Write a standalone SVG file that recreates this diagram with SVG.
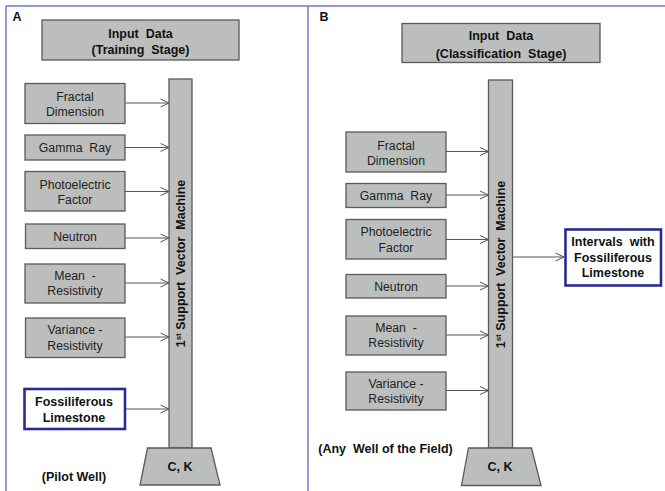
<svg xmlns="http://www.w3.org/2000/svg" width="665" height="491" viewBox="0 0 665 491">
<defs>
<style>
text{white-space:pre}
.box{fill:#bcbebe;stroke:#5a5a5a;stroke-width:1.3}
.hl{fill:#ffffff;stroke:#2b2b8f;stroke-width:2.6}
.t{font-family:"Liberation Sans",Arial,sans-serif;font-size:12.3px;fill:#222;text-anchor:middle}
.b{font-family:"Liberation Sans",Arial,sans-serif;font-size:12.5px;font-weight:bold;fill:#111;text-anchor:middle}
.frame{stroke:#7474c4;stroke-width:1.5;fill:none}
.con{stroke:#555;stroke-width:1;fill:none;marker-end:url(#ah)}
</style>
<marker id="ah" viewBox="0 0 10 10" refX="9.5" refY="5" markerWidth="10" markerHeight="10" markerUnits="userSpaceOnUse" orient="auto">
<polyline points="1,1 9.5,5 1,9" fill="none" stroke="#555" stroke-width="1"/>
</marker>
</defs>
<rect width="665" height="491" fill="#ffffff"/>
<g id="frame">
<line class="frame" x1="6" y1="6" x2="665" y2="6"/>
<line class="frame" x1="6" y1="6" x2="6" y2="491"/>
<line class="frame" x1="308" y1="6" x2="308" y2="491"/>
</g>
<text class="b" x="17" y="20.5" font-size="13">A</text>
<text class="b" x="324" y="20.5" font-size="13">B</text>

<g id="connectors">
<line class="con" x1="125" y1="103" x2="169" y2="103"/>
<line class="con" x1="125" y1="147.5" x2="169" y2="147.5"/>
<line class="con" x1="125" y1="191.5" x2="169" y2="191.5"/>
<line class="con" x1="125" y1="238" x2="169" y2="238"/>
<line class="con" x1="125" y1="283" x2="169" y2="283"/>
<line class="con" x1="125" y1="337" x2="169" y2="337"/>
<line class="con" x1="125" y1="409" x2="169" y2="409"/>
<line class="con" x1="446" y1="151.5" x2="488.5" y2="151.5"/>
<line class="con" x1="446" y1="195" x2="488.5" y2="195"/>
<line class="con" x1="446" y1="239.5" x2="488.5" y2="239.5"/>
<line class="con" x1="446" y1="286" x2="488.5" y2="286"/>
<line class="con" x1="446" y1="335" x2="488.5" y2="335"/>
<line class="con" x1="446" y1="390.5" x2="488.5" y2="390.5"/>
<line class="con" x1="512.5" y1="257" x2="564" y2="257"/>
</g>

<!-- Panel A -->
<g id="inputA">
<rect class="box" x="42" y="20" width="197" height="40"/>
<text class="b" x="140.5" y="37.8">Input  Data</text>
<text class="b" x="140.5" y="53.8">(Training  Stage)</text>
</g>
<g id="svmA">
<rect class="box" x="169" y="79" width="23" height="369"/>
<text class="b" transform="translate(185,263.5) rotate(-90)">1<tspan font-size="8" dy="-4">st</tspan><tspan dy="4"> Support  Vector  Machine</tspan></text>
</g>
<g id="fractalA">
<rect class="box" x="25" y="83.5" width="100" height="40"/>
<text class="t" x="75" y="101">Fractal</text>
<text class="t" x="75" y="115.5">Dimension</text>
</g>
<g id="gammaA">
<rect class="box" x="25" y="135" width="100" height="25"/>
<text class="t" x="75" y="151.8">Gamma  Ray</text>
</g>
<g id="photoA">
<rect class="box" x="25" y="171.5" width="100" height="39.5"/>
<text class="t" x="75" y="188.5">Photoelectric</text>
<text class="t" x="75" y="203.5">Factor</text>
</g>
<g id="neutronA">
<rect class="box" x="25.5" y="224" width="99.5" height="24.5"/>
<text class="t" x="75" y="240.5">Neutron</text>
</g>
<g id="meanA">
<rect class="box" x="25" y="264" width="100" height="39"/>
<text class="t" x="75" y="280">Mean  -</text>
<text class="t" x="75" y="295">Resistivity</text>
</g>
<g id="varA">
<rect class="box" x="25.5" y="318" width="99.5" height="39.5"/>
<text class="t" x="75" y="334">Variance -</text>
<text class="t" x="75" y="349.5">Resistivity</text>
</g>
<g id="fossilA">
<rect class="hl" x="24.5" y="389" width="100.5" height="40"/>
<text class="b" x="74" y="406">Fossiliferous</text>
<text class="b" x="74" y="421.5">Limestone</text>
</g>
<g id="ckA">
<polygon class="box" points="147.5,448 211,448 220,485 140,485"/>
<text class="b" x="180" y="470.5">C, K</text>
</g>
<text class="b" x="74" y="480.5">(Pilot Well)</text>

<!-- Panel B -->
<g id="inputB">
<rect class="box" x="402" y="23.5" width="198" height="39"/>
<text class="b" x="501" y="39.5">Input  Data</text>
<text class="b" x="501" y="57.5">(Classification  Stage)</text>
</g>
<g id="svmB">
<rect class="box" x="488.5" y="80" width="24" height="368"/>
<text class="b" transform="translate(505,264.5) rotate(-90)">1<tspan font-size="8" dy="-4">st</tspan><tspan dy="4"> Support  Vector  Machine</tspan></text>
</g>
<g id="fractalB">
<rect class="box" x="346" y="132" width="100" height="40"/>
<text class="t" x="396" y="149.5">Fractal</text>
<text class="t" x="396" y="164.5">Dimension</text>
</g>
<g id="gammaB">
<rect class="box" x="346" y="183.5" width="100" height="24"/>
<text class="t" x="396" y="199.5">Gamma  Ray</text>
</g>
<g id="photoB">
<rect class="box" x="346" y="219.5" width="100" height="39.5"/>
<text class="t" x="396" y="236">Photoelectric</text>
<text class="t" x="396" y="251.5">Factor</text>
</g>
<g id="neutronB">
<rect class="box" x="346" y="274.5" width="100" height="23.5"/>
<text class="t" x="396" y="290.5">Neutron</text>
</g>
<g id="meanB">
<rect class="box" x="346" y="316" width="100" height="39"/>
<text class="t" x="396" y="331.5">Mean  -</text>
<text class="t" x="396" y="347">Resistivity</text>
</g>
<g id="varB">
<rect class="box" x="346" y="372" width="100" height="38"/>
<text class="t" x="396" y="387.5">Variance -</text>
<text class="t" x="396" y="403">Resistivity</text>
</g>
<g id="outB">
<rect class="hl" x="565.5" y="229.5" width="95.5" height="56"/>
<text class="b" x="613" y="246">Intervals  with</text>
<text class="b" x="613" y="262">Fossiliferous</text>
<text class="b" x="613" y="277">Limestone</text>
</g>
<g id="ckB">
<polygon class="box" points="468.5,448 531.5,448 541,485.5 461.5,485.5"/>
<text class="b" x="500" y="471">C, K</text>
</g>
<text class="b" x="385.5" y="452.5">(Any  Well of the Field)</text>
</svg>
